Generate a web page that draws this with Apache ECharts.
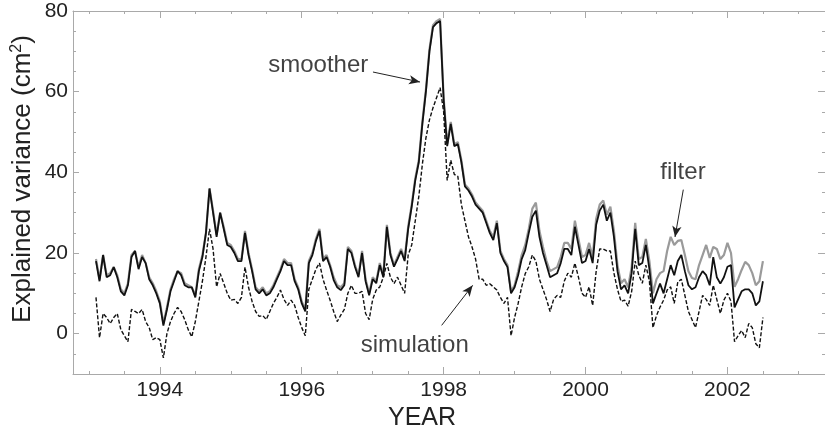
<!DOCTYPE html>
<html>
<head>
<meta charset="utf-8">
<script src="https://cdn.jsdelivr.net/npm/echarts@6/dist/echarts.min.js"></script>
<style>
html,body{margin:0;padding:0;background:#fff;}
#chart{width:825px;height:430px;}
</style>
</head>
<body>
<div id="chart"></div>
<script>
// Sampling grid (decimal year), one value every 0.05 yr from 1993.10 to 2002.50
const startYear = 1993.10;
const stepYear = 0.05;

// smoother (solid black)
const smoother = [
 18,13,19.5,14,14.5,16.5,14,10.5,9.5,12,
 19,20.5,16,19,17.5,13.5,12,10,7.5,2,
 6,10.5,13,15.5,14.5,12,11.5,11.5,9,15.5,
 19,25,36,30,24,30,26,22,21.5,20,
 18,18,25,19.5,15.5,11,10,11,9.5,10,
 11.5,13.5,15.5,18,17,17,13,11,7.5,5.5,
 17.5,19.5,23,25.5,18,19,16.6,13.3,11.5,10.8,
 12,21,20,16.6,14,20,13,9.5,13.5,12.5,
 17,14,26.5,19.5,16.6,18.5,20.5,18,26,31.5,
 38,42.5,52,60,70,76,77,77.5,58,46.5,
 52,46.5,47,42.5,36.5,35.5,34,32,31,30,
 27.5,25,23.2,27.4,20,18,16.5,10,11.5,14.5,
 18.5,20.7,25,29,30.5,24,20,17,14,14.5,
 15,17.5,21,21,19.5,26.5,22,17.5,18,21,
 17.5,27,30.5,32,28,30,24,15.5,11,12,
 10,15,26,17,17.5,22,16,7.5,10,12.4,
 10,13.5,17,14.5,18,19.5,15.5,12,11,11.5,
 14,15.5,14.5,12,19,14,12.4,14,16.6,17,
 6.5,8.5,10.5,11,11,10,7,8,13
];

// filter (solid grey)
const filter = [
 18.5,13.5,19.5,14.5,15,16.5,14.5,11,10,12.5,
 19.5,20.5,16.5,19.5,17.5,14,12.5,10.5,8,2.5,
 6.5,11,13.5,15.5,15,12.5,12,11.5,9.5,16,
 19.5,25,36,30.5,24.5,30,26.5,22.5,22,20.5,
 18.5,18.5,25.5,20,16,11.5,10.5,11.5,10,10.5,
 12,14,16,18.5,17.5,17.5,13.5,11.5,8,6,
 18,20,23.5,26,18.5,19.5,17,14,12,11.5,
 12.5,21.5,20.5,17,14.5,20.5,13.5,10,14,13,
 17.5,14.5,27,20,17,19,21,18.5,26.5,32,
 38.5,43,52.5,60.5,70.5,76.5,77.5,78,58.5,47,
 52.5,47,47.5,43,37,36,34.5,32.5,31.5,30.5,
 28,25.5,24,28,20.5,18.5,17,10.5,12,15.5,
 19.5,22,26,31,32.5,25.5,21.5,18,15.5,16,
 16.5,19,22.5,22.5,21,28,23.5,19,19.5,22.5,
 19,28.5,32,33,29.5,31.5,25.5,17,12.5,13.5,
 11.5,16.5,27.5,18.5,19,23.5,18,10,13.5,15,
 15.5,20.5,24,22,23,23.2,19.5,15.5,13.8,13.5,
 17,19.5,22,18.8,21.5,21,18.5,19.5,22.5,20,
 11.6,13.5,15.8,17.8,17,15,12,13,18
];

// simulation (dashed black)
const simulation = [
 9,-1,5,4,2.5,4,5,1,-0.5,-2,
 6,5.5,5,6,3,1.5,-1.5,-1,-1.5,-6,
 0,3,5,6.5,5.5,3.5,1,-0.8,3,8,
 13,19,26,21,11.6,14.9,12.5,10,8.3,8.5,
 7.5,9,16.5,11.5,8,5.5,4.3,4.5,3.5,5.5,
 7.5,9,10.8,8.5,7,8.3,7,4,1.5,-0.5,
 11,13.5,16,17.5,13.5,10.8,8.3,5.5,3,4.6,
 6,10,12,10,10,10.5,5,3.5,8.5,10.8,
 11.6,14,17.4,14,12.4,14,12,10,19.5,22,
 28,34,42,48.5,53,56,58.5,61,55,38,
 43,39.5,39,32,28,24,21.5,18.5,13.5,13.5,
 12,12.4,11.6,10.8,9,7.5,9,-0.5,4,7.5,
 11.6,14.9,16.6,19.5,18,13.5,11,8.5,5.5,8.5,
 9.5,9,13,15,14,17.5,14,10,9,11.6,
 7,15.5,21,21,20.5,20.5,15,11,8,8.3,
 6.8,10.5,18,14.5,12.5,17,13,1.5,4.5,6.6,
 8.3,10.8,11.6,7.5,12.8,13.5,9.5,5.5,3.5,1.5,
 5.5,9.5,8.5,7,12,8.5,5,8.3,10,8,
 -2,-0.5,0.8,-1,2.5,1.5,-2.5,-3.5,4
];

// annotations: [label, textX, textY, arrowFromX, arrowFromY, arrowToX, arrowToY]
const annotations = [
 ['smoother',   1996.233, 66.6, 1997.004, 64.87, 1997.667, 62.39],
 ['simulation', 1997.593, -2.8, 1997.972, 2.06, 1998.409, 11.98],
 ['filter',     2001.373, 40.1, 2001.378, 35.71, 2001.261, 23.96]
];

const years = smoother.map((_, i) => +(startYear + stepYear * i).toFixed(2));

// ---- layout (pixels) ----
const FONT = "'Liberation Sans', Arial, Helvetica, sans-serif";
const AXIS_COLOR = '#a9a9a9';
const PLOT_L = 73, PLOT_T = 11, PLOT_W = 752, PLOT_H = 363;
const X_MIN = 1992.776, PX_PER_YEAR = 70.95;
const X_MAX = X_MIN + PLOT_W / PX_PER_YEAR;
const Y_MIN = -10, Y_MAX = 80;
const PX_PER_UNIT = PLOT_H / (Y_MAX - Y_MIN);
const xPix = yr => PLOT_L + (yr - X_MIN) * PX_PER_YEAR;

// auxiliary grids only carry tick marks (same scale as the plot)
const base = { outerBoundsMode: 'none', containLabel: false };
const gMain = Object.assign({ left: PLOT_L, top: PLOT_T, width: PLOT_W, height: PLOT_H }, base);
const gXMinor = Object.assign({ left: xPix(1993), top: PLOT_T, width: 10 * PX_PER_YEAR, height: PLOT_H }, base);
const gXMajor = Object.assign({ left: xPix(1994), top: PLOT_T, width: 8 * PX_PER_YEAR, height: PLOT_H }, base);
const gYMajor = Object.assign({ left: PLOT_L, top: PLOT_T, width: PLOT_W, height: 80 * PX_PER_UNIT }, base);

const lineOn = { show: true, onZero: false, lineStyle: { color: AXIS_COLOR, width: 1 } };
const lineOff = { show: false, onZero: false };
const tick = len => ({ show: true, inside: true, length: len, lineStyle: { color: AXIS_COLOR, width: 1 } });
const noTick = { show: false };
const noLabel = { show: false };
const labelStyle = { fontSize: 21, color: '#222', fontFamily: FONT };
const noSplit = { show: false };

const xAxes = [
  { gridIndex: 0, type: 'value', position: 'bottom', min: X_MIN, max: X_MAX, axisLine: lineOn, axisTick: noTick, axisLabel: noLabel, splitLine: noSplit },
  { gridIndex: 0, type: 'value', position: 'top', min: X_MIN, max: X_MAX, axisLine: lineOn, axisTick: noTick, axisLabel: noLabel, splitLine: noSplit },
  { gridIndex: 1, type: 'value', position: 'bottom', min: 1993, max: 2003, interval: 0.5, axisLine: lineOff, axisTick: tick(3), axisLabel: noLabel, splitLine: noSplit },
  { gridIndex: 1, type: 'value', position: 'top', min: 1993, max: 2003, interval: 0.5, axisLine: lineOff, axisTick: tick(3), axisLabel: noLabel, splitLine: noSplit },
  { gridIndex: 2, type: 'value', position: 'bottom', min: 1994, max: 2002, interval: 2, axisLine: lineOff, axisTick: tick(7),
    axisLabel: Object.assign({ show: true, margin: 6, formatter: v => String(v) }, labelStyle), splitLine: noSplit },
  { gridIndex: 2, type: 'value', position: 'top', min: 1994, max: 2002, interval: 2, axisLine: lineOff, axisTick: tick(7), axisLabel: noLabel, splitLine: noSplit },
  { gridIndex: 3, type: 'value', show: false, min: 0, max: 1 }
];

const yAxes = [
  { gridIndex: 0, type: 'value', position: 'left', min: Y_MIN, max: Y_MAX, interval: 5, axisLine: lineOn, axisTick: tick(3), axisLabel: noLabel, splitLine: noSplit },
  { gridIndex: 0, type: 'value', position: 'right', min: Y_MIN, max: Y_MAX, interval: 5, axisLine: lineOn, axisTick: tick(3), axisLabel: noLabel, splitLine: noSplit },
  { gridIndex: 1, type: 'value', show: false, min: 0, max: 1 },
  { gridIndex: 2, type: 'value', show: false, min: 0, max: 1 },
  { gridIndex: 3, type: 'value', position: 'left', min: 0, max: 80, interval: 20, axisLine: lineOff, axisTick: tick(6),
    axisLabel: Object.assign({ show: true, margin: 5, padding: [5, 0, 0, 0] }, labelStyle), splitLine: noSplit },
  { gridIndex: 3, type: 'value', position: 'right', min: 0, max: 80, interval: 20, axisLine: lineOff, axisTick: tick(7), axisLabel: noLabel, splitLine: noSplit }
];

const chart = echarts.init(document.getElementById('chart'), null, { renderer: 'canvas' });

const option = {
  animation: false,
  backgroundColor: '#ffffff',
  grid: [gMain, gXMinor, gXMajor, gYMajor],
  xAxis: xAxes,
  yAxis: yAxes,
  series: [
    {
      name: 'filter', type: 'line', xAxisIndex: 0, yAxisIndex: 0,
      data: years.map((t, i) => [t, filter[i]]),
      showSymbol: false, symbol: 'none',
      lineStyle: { color: '#9a9a9a', width: 2.2 }, z: 2
    },
    {
      name: 'simulation', type: 'line', xAxisIndex: 0, yAxisIndex: 0,
      data: years.map((t, i) => [t, simulation[i]]),
      showSymbol: false, symbol: 'none',
      lineStyle: { color: '#111', width: 1.4, type: [4, 2] }, z: 3
    },
    {
      name: 'smoother', type: 'line', xAxisIndex: 0, yAxisIndex: 0,
      data: years.map((t, i) => [t, smoother[i]]),
      showSymbol: false, symbol: 'none',
      lineStyle: { color: '#111', width: 1.8 }, z: 4,
      markLine: {
        silent: true, animation: false,
        symbol: ['none', 'arrow'], symbolSize: [7, 11],
        label: { show: false },
        lineStyle: { color: '#222', width: 1, type: 'solid' },
        data: annotations.map(a => [{ coord: [a[3], a[4]] }, { coord: [a[5], a[6]] }])
      }
    },
    {
      name: 'labels', type: 'scatter', xAxisIndex: 0, yAxisIndex: 0,
      symbolSize: 1, itemStyle: { color: 'rgba(0,0,0,0)' }, silent: true, z: 5,
      data: annotations.map(a => ({ value: [a[1], a[2]], name: a[0] })),
      label: {
        show: true, position: 'inside', formatter: p => p.name,
        fontSize: 24, color: '#111', fontFamily: FONT
      },
      labelLayout: { hideOverlap: false }
    }
  ],
  graphic: [
    {
      type: 'text', x: 23, y: 179, rotation: Math.PI / 2,
      style: {
        text: '{a|Explained variance (cm}{b|2}{a|)}',
        align: 'center', verticalAlign: 'middle',
        rich: {
          a: { fontSize: 26, fill: '#222', fontFamily: FONT, lineHeight: 28, verticalAlign: 'middle' },
          b: { fontSize: 16, fill: '#222', fontFamily: FONT, lineHeight: 28, verticalAlign: 'top' }
        }
      }
    },
    {
      type: 'text', x: 422, y: 418,
      style: {
        text: 'YEAR', fontSize: 25, fill: '#222', fontFamily: FONT,
        align: 'center', verticalAlign: 'middle'
      }
    }
  ]
};
chart.setOption(option);
</script>
</body>
</html>
